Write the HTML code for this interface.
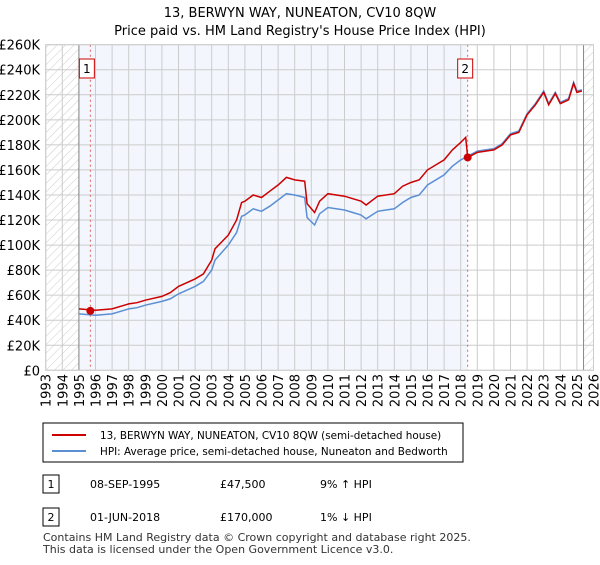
<!DOCTYPE html>
<html><head><meta charset="utf-8"><style>
body{margin:0;background:#fff;font-family:"Liberation Sans","DejaVu Sans",sans-serif;}
svg text{font-family:"DejaVu Sans","Liberation Sans",sans-serif;}
</style></head><body>
<svg id="c" width="600" height="560" xmlns="http://www.w3.org/2000/svg">
<defs><pattern id="h" width="6" height="6" patternUnits="userSpaceOnUse" patternTransform="rotate(45)"><line x1="0" y1="0" x2="0" y2="6" stroke="#ccc" stroke-width="1"/></pattern></defs>
<text x="300" y="17" text-anchor="middle" font-size="13">13, BERWYN WAY, NUNEATON, CV10 8QW</text>
<text x="300" y="35" text-anchor="middle" font-size="13">Price paid vs. HM Land Registry's House Price Index (HPI)</text>
<g id="plot"></g>
<g>
<rect x="43" y="423" width="420" height="39" fill="#fff" stroke="#000"/>
<line x1="52" y1="435" x2="86" y2="435" stroke="#cc0000" stroke-width="2"/>
<text x="100" y="439" font-size="10.4">13, BERWYN WAY, NUNEATON, CV10 8QW (semi-detached house)</text>
<line x1="52" y1="451" x2="86" y2="451" stroke="#5b8fd4" stroke-width="2"/>
<text x="100" y="455" font-size="10.4">HPI: Average price, semi-detached house, Nuneaton and Bedworth</text>
</g>
<g>
<rect x="43" y="475" width="16" height="18" fill="#fff" stroke="#000"/><text x="51" y="488" font-size="11" text-anchor="middle">1</text>
<text x="90" y="488" font-size="11">08-SEP-1995</text><text x="220" y="488" font-size="11">£47,500</text><text x="320" y="488" font-size="11">9% ↑ HPI</text></g>
<g>
<rect x="43" y="508" width="16" height="18" fill="#fff" stroke="#000"/><text x="51" y="521" font-size="11" text-anchor="middle">2</text>
<text x="90" y="521" font-size="11">01-JUN-2018</text><text x="220" y="521" font-size="11">£170,000</text><text x="320" y="521" font-size="11">1% ↓ HPI</text></g>
<text x="43" y="541" font-size="11" fill="#333">Contains HM Land Registry data © Crown copyright and database right 2025.</text>
<text x="43" y="553" font-size="11" fill="#333">This data is licensed under the Open Government Licence v3.0.</text>
</svg>
<script>
const years=[1995,1996,1997,1998,1998.5,1999,2000,2000.5,2001,2002,2002.5,2003,2003.2,2004,2004.5,2004.8,2005,2005.5,2006,2006.5,2007,2007.5,2008,2008.6,2008.75,2009.2,2009.5,2010,2011,2011.5,2012,2012.3,2013,2014,2014.5,2015,2015.5,2016,2017,2017.5,2018,2018.3,2018.42,2019,2020,2020.5,2021,2021.5,2022,2022.5,2023,2023.3,2023.7,2024,2024.5,2024.8,2025,2025.3];
const propertyValues=[49,48,49,53,54,56,59,62,67,73,77,88,97,108,120,134,135,140,138,143,148,154,152,151,133,126,135,141,139,137,135,132,139,141,147,150,152,160,168,176,182,186,170,174,176,180,188,190,204,212,222,212,221,213,216,229,222,223];
const hpiValues=[45,44,45,49,50,52,55,57,61,67,71,80,88,100,110,123,124,129,127,131,136,141,140,138,122,116,125,130,128,126,124,121,127,129,134,138,140,148,156,163,168,170,171,175,177,181,189,191,205,213,223,213,222,214,217,230,223,224];
const sales=[[1995.69,47.5,'1'],[2018.42,170,'2']];
const yTicks=[0,20,40,60,80,100,120,140,160,180,200,220,240,260];
const xStart=1993,xEnd=2026;
const X=y=>45.7+(y-xStart)*(593.5-45.7)/(xEnd-xStart);
const Y=v=>370.3-v*(370.3-44.7)/260;
const ns='http://www.w3.org/2000/svg',g=document.getElementById('plot');
function mk(t,a){const e=document.createElementNS(ns,t);for(const k in a)e.setAttribute(k,a[k]);g.appendChild(e);return e;}
let e;
e=mk('rect',{x:X(1995),y:Y(260),width:X(2018.42)-X(1995),height:Y(0)-Y(260),fill:'#f3f6fd'});


e=mk('rect',{x:X(1993),y:Y(260),width:X(1995)-X(1993),height:Y(0)-Y(260),fill:'url(#h)'});


e=mk('rect',{x:X(2025.4),y:Y(260),width:X(2026)-X(2025.4),height:Y(0)-Y(260),fill:'url(#h)'});


for(const t of yTicks){
 e=mk('line',{x1:X(1993),x2:X(2026),y1:Y(t),y2:Y(t),stroke:'#ccc'});
 
 
 e=mk('text',{x:40,y:Y(t)+5,'text-anchor':'end','font-size':13});
 e.textContent=t===0?'£0':'£'+t+'K';
 
 
}
for(let yr=xStart;yr<=xEnd;yr++){
 e=mk('line',{x1:X(yr),x2:X(yr),y1:Y(260),y2:Y(0),stroke:'#ccc'});
 
 
 e=mk('text',{x:0,y:0,'font-size':13,'text-anchor':'end',transform:`translate(${X(yr)+5},374) rotate(-90)`});
 e.textContent=yr;
 
 
}
e=mk('line',{x1:X(1995),x2:X(1995),y1:Y(260),y2:Y(0),stroke:'#888'});


e=mk('line',{x1:X(2025.4),x2:X(2025.4),y1:Y(260),y2:Y(0),stroke:'#888'});


for(const s of sales){
 e=mk('line',{x1:X(s[0]),x2:X(s[0]),y1:Y(260),y2:Y(0),stroke:'#e06060','stroke-dasharray':'2,3'});
 
 
}
const pts=v=>years.map((y,i)=>X(y).toFixed(1)+','+Y(v[i]).toFixed(1)).join(' ');
e=mk('polyline',{points:pts(hpiValues),fill:'none',stroke:'#5b8fd4','stroke-width':1.5});


e=mk('polyline',{points:pts(propertyValues),fill:'none',stroke:'#cc0000','stroke-width':1.5});


for(const s of sales){
 e=mk('circle',{cx:X(s[0]),cy:Y(s[1]),r:4,fill:'#cc0000'});
 
 
 const bx=s[2]==='1'?X(s[0])-11:X(s[0])-10;
 e=mk('rect',{x:bx,y:59,width:15,height:19,fill:'#fff',stroke:'#cc0000'});
 
 
 e=mk('text',{x:bx+7.5,y:73,'font-size':12,'text-anchor':'middle'});
 e.textContent=s[2];
 
 
}
e=mk('rect',{x:X(1993),y:Y(260),width:X(2026)-X(1993),height:Y(0)-Y(260),fill:'none',stroke:'#ccc'});


</script>
</body></html>
